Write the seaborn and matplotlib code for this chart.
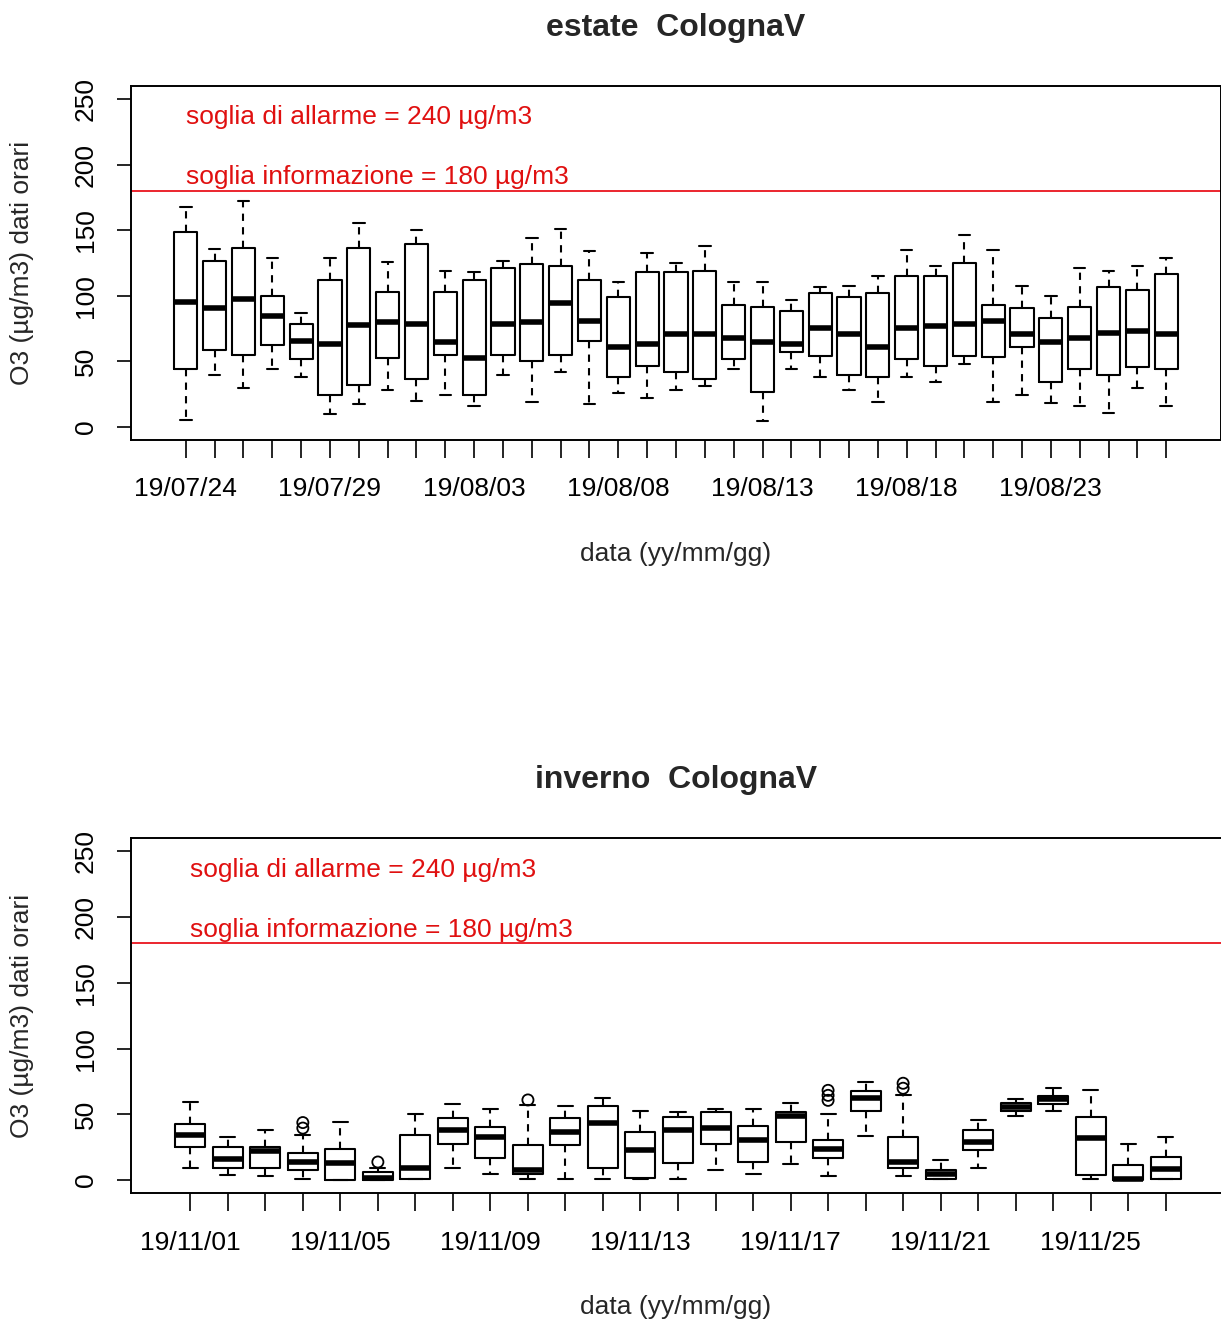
import numpy as np
import pandas as pd
import matplotlib
matplotlib.use("Agg")
import matplotlib.pyplot as plt
import seaborn as sns

# ---------------- data ----------------
summer_dates = ["19/07/24", "19/07/25", "19/07/26", "19/07/27", "19/07/28", "19/07/29", "19/07/30",
                "19/07/31", "19/08/01", "19/08/02", "19/08/03", "19/08/04", "19/08/05", "19/08/06",
                "19/08/07", "19/08/08", "19/08/09", "19/08/10", "19/08/11", "19/08/12", "19/08/13",
                "19/08/14", "19/08/15", "19/08/16", "19/08/17", "19/08/18", "19/08/19", "19/08/20",
                "19/08/21", "19/08/22", "19/08/23", "19/08/24", "19/08/25", "19/08/26", "19/08/27"]
summer_low = [5.6, 39.5, 29.3, 44.5, 37.7, 9.7, 17.3, 28.0, 19.6, 24.7, 16.0, 39.5, 19.3, 41.7, 17.3,
              25.5, 21.9, 28.0, 31.0, 44.3, 4.3, 44.3, 38.2, 28.0, 19.3, 38.2, 34.4, 48.1, 19.3, 24.4,
              18.1, 15.8, 10.7, 29.3, 15.8]
summer_q1 = [44.3, 59.0, 55.2, 62.4, 51.7, 24.4, 31.8, 52.9, 36.9, 55.2, 24.4, 55.2, 50.4, 55.2, 65.4,
             38.2, 46.8, 41.7, 36.9, 51.7, 26.7, 56.8, 54.2, 39.2, 38.2, 51.7, 46.8, 54.2, 53.2, 60.6,
             34.4, 44.3, 39.2, 45.6, 44.3]
summer_med = [95.4, 90.4, 97.7, 84.5, 65.7, 63.1, 77.9, 79.7, 78.1, 64.4, 52.9, 78.1, 79.7, 94.4, 80.7,
              60.6, 63.1, 70.5, 70.5, 68.0, 64.4, 63.1, 75.6, 70.5, 60.6, 75.6, 76.9, 78.1, 80.7, 70.5,
              64.4, 68.0, 71.8, 73.0, 70.5]
summer_q3 = [149.0, 126.5, 136.4, 99.8, 78.4, 111.7, 136.7, 102.8, 139.2, 103.0, 111.7, 121.4, 124.0,
             122.9, 111.7, 99.3, 117.8, 117.8, 119.1, 92.9, 91.6, 88.1, 101.8, 99.3, 101.8, 115.3, 115.3,
             125.2, 92.6, 90.4, 83.0, 91.6, 106.4, 104.1, 116.6]
summer_high = [167.7, 136.0, 172.6, 128.8, 86.6, 129.0, 155.3, 125.5, 150.2, 118.9, 117.8, 126.5, 143.8,
               151.2, 133.9, 110.5, 132.9, 125.2, 138.2, 110.5, 110.5, 96.7, 106.4, 107.7, 115.3, 135.1,
               122.7, 146.3, 135.1, 107.7, 100.0, 121.4, 118.9, 122.7, 129.0]
summer_tick_labels = ["19/07/24", "19/07/29", "19/08/03", "19/08/08", "19/08/13", "19/08/18", "19/08/23"]

winter_dates = ["19/11/01", "19/11/02", "19/11/03", "19/11/04", "19/11/05", "19/11/06", "19/11/07",
                "19/11/08", "19/11/09", "19/11/10", "19/11/11", "19/11/12", "19/11/13", "19/11/14",
                "19/11/15", "19/11/16", "19/11/17", "19/11/18", "19/11/19", "19/11/20", "19/11/21",
                "19/11/22", "19/11/23", "19/11/24", "19/11/25", "19/11/26", "19/11/27"]
winter_low = [9.4, 4.1, 3.1, 0.5, 0.0, 0.0, 0.5, 9.4, 4.3, 0.5, 0.5, 0.5, 0.5, 0.5, 7.7, 4.3, 12.0,
              3.0, 33.7, 3.0, 0.5, 9.4, 49.0, 52.8, 0.5, 0.0, 0.5]
winter_q1 = [25.5, 9.4, 9.4, 7.7, 0.0, 0.0, 0.5, 27.8, 16.6, 4.3, 26.8, 9.4, 1.3, 12.8, 27.8, 14.0, 29.1,
             17.0, 52.8, 9.4, 0.5, 22.7, 52.8, 57.9, 3.8, 0.0, 0.5]
winter_med = [34.2, 15.8, 22.2, 14.0, 13.2, 1.8, 9.4, 38.0, 32.9, 7.7, 36.7, 43.1, 23.0, 38.0, 39.3, 30.6,
              48.5, 23.4, 62.2, 13.8, 4.3, 29.1, 55.4, 61.7, 32.1, 0.5, 8.2]
winter_q3 = [42.6, 25.3, 25.5, 20.4, 23.4, 6.1, 34.2, 46.9, 40.6, 26.5, 46.9, 56.6, 36.7, 47.7, 51.5, 41.3,
             51.5, 30.3, 68.1, 33.1, 7.7, 38.0, 58.4, 64.3, 48.2, 11.5, 17.9]
winter_high = [59.2, 33.2, 38.0, 34.4, 44.4, 9.4, 50.3, 57.9, 54.1, 57.5, 56.1, 62.5, 52.8, 51.5, 54.1,
               54.1, 58.7, 50.2, 74.5, 64.7, 15.3, 45.7, 61.7, 70.2, 68.9, 27.8, 32.9]
winter_outlier_dates = ["19/11/04", "19/11/04", "19/11/06", "19/11/10", "19/11/18", "19/11/18",
                        "19/11/18", "19/11/20", "19/11/20"]
winter_outlier_vals = [43.8, 39.6, 13.8, 61.0, 68.3, 64.5, 60.7, 73.7, 69.9]
winter_tick_labels = ["19/11/01", "19/11/05", "19/11/09", "19/11/13", "19/11/17", "19/11/21", "19/11/25"]

thresholds = [240, 180]
threshold_texts = ["soglia di allarme = 240 \u00b5g/m3", "soglia informazione = 180 \u00b5g/m3"]
titles = ["estate  ColognaV", "inverno  ColognaV"]
ylabel = "O3 (\u00b5g/m3) dati orari"
xlabel = "data (yy/mm/gg)"

# ---------------- style ----------------
sns.set_theme(style="white")
plt.rcParams["font.family"] = ["Liberation Sans", "DejaVu Sans"]
plt.rcParams["axes.linewidth"] = 1.4

W, H = 1221, 1321
fig = plt.figure(figsize=(W / 100, H / 100), dpi=100)


def long_frame(dates, *cols):
    rows = []
    for i, d in enumerate(dates):
        for c in cols:
            rows.append((d, c[i]))
    return pd.DataFrame(rows, columns=["date", "value"])


def draw_panel(rect, dates, low, q1, med, q3, high, tick_labels, title,
               out_dates=None, out_vals=None):
    ax = fig.add_axes(rect)
    df = long_frame(dates, low, q1, med, q3, high)
    sns.boxplot(data=df, x="date", y="value", order=dates, ax=ax, whis=np.inf,
                fill=False, color="black", width=0.8, linewidth=1.5,
                medianprops=dict(linewidth=4.0, color="black"),
                whiskerprops=dict(linestyle=(0, (3.5, 3)), color="black"),
                capprops=dict(color="black"),
                boxprops=dict(color="black"))
    if out_dates is not None:
        odf = pd.DataFrame({"date": out_dates, "value": out_vals})
        n_before = len(ax.collections)
        sns.stripplot(data=odf, x="date", y="value", order=dates, ax=ax, jitter=False,
                      color="black", size=8, linewidth=1.3, edgecolor="black", marker="o")
        for coll in ax.collections[n_before:]:
            coll.set_facecolor("none")
    n = len(dates)
    ext = 0.04 * n
    ax.set_xlim(-0.5 - ext, n - 0.5 + ext)
    ax.set_ylim(-10, 260)
    # thresholds
    ax.axhline(thresholds[1], color="#e8000b", linewidth=1.2)
    ax.text(0, 236, threshold_texts[0], color="#e01010", fontsize=19, ha="left", va="center")
    ax.text(0, 190.5, threshold_texts[1], color="#e01010", fontsize=19, ha="left", va="center")
    # ticks
    ax.set_xticks(range(n))
    ax.set_xticklabels([d if d in tick_labels else "" for d in dates])
    ax.set_yticks([0, 50, 100, 150, 200, 250])
    ax.set_yticklabels(["0", "50", "100", "150", "200", "250"], rotation=90, va="center")
    ax.tick_params(axis="both", which="both", direction="out", width=1.2,
                   colors="black", labelsize=19, bottom=True, left=True)
    ax.tick_params(axis="x", length=13, pad=14)
    ax.tick_params(axis="y", length=10, pad=14)
    ax.set_xlabel(xlabel, fontsize=19)
    ax.set_ylabel(ylabel, fontsize=19)
    h_px = rect[3] * H
    w_px = rect[2] * W
    ax.xaxis.set_label_coords(0.5 * 1090 / w_px, -114 / h_px)
    ax.xaxis.label.set_va("center")
    ax.yaxis.set_label_coords(-109 / w_px, 0.5)
    ax.yaxis.label.set_va("center")
    ax.text(0.5 * 1090 / w_px, 1 + 58 / h_px, title, transform=ax.transAxes, ha="center",
            va="center", fontsize=23, fontweight="bold")
    for s in ax.spines.values():
        s.set_color("black")
        s.set_linewidth(1.4)
    ax.grid(False)
    return ax


# top panel: x 131..1221, y 86..440
draw_panel([131 / W, 1 - 440 / H, 1090 / W, 354 / H], summer_dates, summer_low, summer_q1,
           summer_med, summer_q3, summer_high, summer_tick_labels, titles[0])
# bottom panel: x 131..1225, y 838..1193
draw_panel([131 / W, 1 - 1193.3 / H, 1094 / W, 355 / H], winter_dates, winter_low, winter_q1,
           winter_med, winter_q3, winter_high, winter_tick_labels, titles[1],
           winter_outlier_dates, winter_outlier_vals)

fig.savefig("out.png", dpi=100, facecolor="white")
